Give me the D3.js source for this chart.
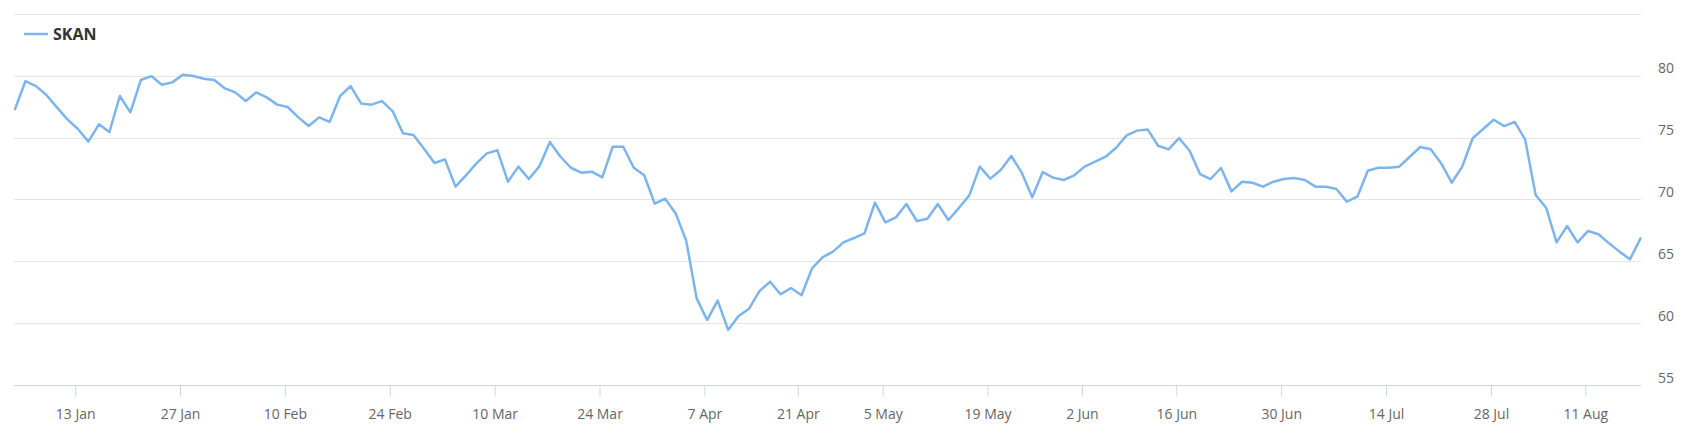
<!DOCTYPE html>
<html>
<head>
<meta charset="utf-8">
<script src="https://cdn.jsdelivr.net/npm/d3@7"></script>
<style>
  html, body { margin: 0; padding: 0; background: #ffffff; }
  svg { display: block; font-family: "Open Sans", sans-serif; }
</style>
</head>
<body>
<svg id="chart" width="1696" height="446"></svg>
<script>
// ---- data ----
const seriesName = "SKAN";
const firstDay = "2025-01-03";
const lastDay = "2025-08-18";
const exchangeHolidays = ["2025-04-18", "2025-04-21", "2025-05-01", "2025-05-29", "2025-06-09", "2025-08-01"];

const prices = [
  77.3, 79.57, 79.16, 78.44, 77.44, 76.47, 75.69, 74.67, 76.07, 75.45,
  78.36, 77.04, 79.65, 79.97, 79.27, 79.46, 80.08, 79.97, 79.76, 79.65,
  78.98, 78.65, 77.95, 78.65, 78.25, 77.66, 77.47, 76.65, 75.93, 76.63,
  76.26, 78.36, 79.16, 77.76, 77.66, 77.95, 77.14, 75.34, 75.2, 74.1,
  72.94, 73.24, 71.03, 71.95, 72.91, 73.72, 73.97, 71.43, 72.65, 71.65,
  72.67, 74.64, 73.47, 72.56, 72.16, 72.24, 71.78, 74.26, 74.26, 72.56,
  71.95, 69.66, 70.06, 68.87, 66.67, 62.0, 60.25, 61.82, 59.45, 60.58,
  61.17, 62.6, 63.35, 62.33, 62.84, 62.25, 64.43, 65.32, 65.78, 66.53,
  66.88, 67.26, 69.74, 68.15, 68.55, 69.63, 68.25, 68.44, 69.63, 68.34,
  69.3, 70.33, 72.65, 71.68, 72.38, 73.51, 72.16, 70.17, 72.21, 71.76,
  71.57, 71.95, 72.65, 73.05, 73.45, 74.18, 75.18, 75.56, 75.66, 74.34,
  74.05, 74.96, 73.94, 72.05, 71.65, 72.54, 70.65, 71.43, 71.35, 71.03,
  71.43, 71.65, 71.73, 71.57, 71.03, 71.03, 70.84, 69.82, 70.22, 72.32,
  72.56, 72.56, 72.65, 73.45, 74.24, 74.05, 72.91, 71.35, 72.65, 74.94,
  75.69, 76.44, 75.93, 76.26, 74.85, 70.36, 69.33, 66.53, 67.85, 66.53,
  67.45, 67.18, 66.45, 65.78, 65.16, 66.85
];

const tickDates = ["2025-01-13", "2025-01-27", "2025-02-10", "2025-02-24", "2025-03-10", "2025-03-24",
  "2025-04-07", "2025-04-21", "2025-05-05", "2025-05-19", "2025-06-02", "2025-06-16",
  "2025-06-30", "2025-07-14", "2025-07-28", "2025-08-11"];
const tickLabels = ["13 Jan", "27 Jan", "10 Feb", "24 Feb", "10 Mar", "24 Mar", "7 Apr", "21 Apr",
  "5 May", "19 May", "2 Jun", "16 Jun", "30 Jun", "14 Jul", "28 Jul", "11 Aug"];
const yTicks = [55, 60, 65, 70, 75, 80, 85];
const yLabelTicks = [55, 60, 65, 70, 75, 80];

// ---- trading-day categories ----
const parse = d3.utcParse("%Y-%m-%d");
const fmt = d3.utcFormat("%Y-%m-%d");
const hol = new Set(exchangeHolidays);
const days = d3.utcDay.range(parse(firstDay), d3.utcDay.offset(parse(lastDay), 1))
  .filter(d => d.getUTCDay() !== 0 && d.getUTCDay() !== 6 && !hol.has(fmt(d)));
// points are stamped in the evening; ticks sit at midnight (ordinal axis)
const stamps = days.map(d => +d + 19 * 3600e3);
const data = days.map((d, i) => ({ i, date: d, v: prices[i] }));

function ordinalIndex(dateStr) {
  const t = +parse(dateStr);
  const k = d3.bisectRight(stamps, t);
  if (k <= 0) return 0;
  if (k >= stamps.length) return stamps.length - 1;
  return (k - 1) + (t - stamps[k - 1]) / (stamps[k] - stamps[k - 1]);
}
const tickPos = tickDates.map(ordinalIndex);

// ---- layout ----
const svg = d3.select("#chart");
const plotLeft = 14, plotRight = 1641, plotBottom = 385;
const x = d3.scaleLinear().domain([0, data.length - 1]).range([15, 1640.5]);
const y = d3.scaleLinear().domain([55, 85]).range([plotBottom, plotBottom - 30 * 12.372]);

// grid lines
svg.append("g").selectAll("line").data(yTicks.filter(t => t !== 55)).join("line")
  .attr("x1", plotLeft).attr("x2", plotRight)
  .attr("y1", d => Math.round(y(d)) + 0.5).attr("y2", d => Math.round(y(d)) + 0.5)
  .attr("stroke", "#e6e6e6").attr("stroke-width", 1);

// y labels (right)
svg.append("g").selectAll("text").data(yLabelTicks).join("text")
  .attr("x", 1658).attr("y", d => y(d) - 2.5)
  .attr("fill", "#666666").attr("font-size", "14px")
  .text(d => d);

// x axis
const xAxis = d3.axisBottom(x).tickValues(tickPos).tickFormat((d, i) => tickLabels[i])
  .tickSizeOuter(0).tickSizeInner(11).tickPadding(0);
const gx = svg.append("g").attr("transform", `translate(0,${plotBottom + 0.5})`).call(xAxis);
gx.select(".domain").remove();
gx.selectAll(".tick line").attr("stroke", "#ccd6eb");
gx.selectAll(".tick text").attr("fill", "#666666").attr("font-size", "14px")
  .attr("font-family", "Open Sans, sans-serif").attr("y", 0).attr("dy", "33px");
gx.append("line").attr("x1", plotLeft).attr("x2", plotRight).attr("y1", 0).attr("y2", 0)
  .attr("stroke", "#ccd6eb").attr("stroke-width", 1);

// line
const line = d3.line().x(d => x(d.i)).y(d => y(d.v));
svg.append("path").datum(data)
  .attr("d", line).attr("fill", "none")
  .attr("stroke", "#7cb5ec").attr("stroke-width", 2.5)
  .attr("stroke-linejoin", "round").attr("stroke-linecap", "round");

// legend
const lg = svg.append("g");
lg.append("line").attr("x1", 24).attr("x2", 48).attr("y1", 34).attr("y2", 34)
  .attr("stroke", "#7cb5ec").attr("stroke-width", 2.5);
lg.append("text").attr("x", 53).attr("y", 39.5)
  .attr("fill", "#333333").attr("font-size", "16px").attr("font-weight", "bold")
  .text(seriesName);
</script>
</body>
</html>
